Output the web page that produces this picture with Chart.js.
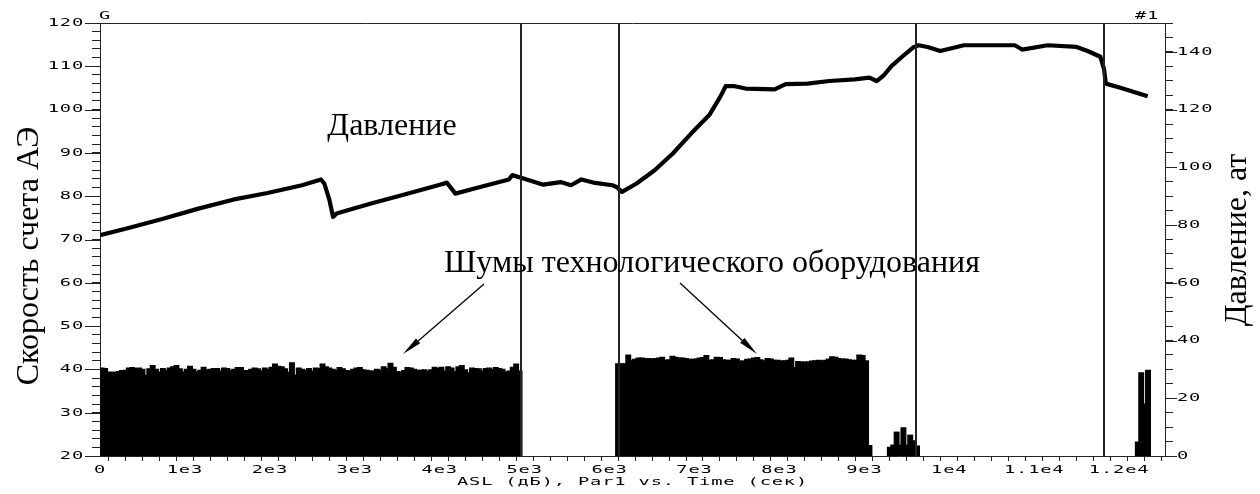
<!DOCTYPE html>
<html><head><meta charset="utf-8">
<script src="https://cdn.jsdelivr.net/npm/chart.js@4/dist/chart.umd.min.js"></script>
<style>html,body{margin:0;padding:0;background:#fff}#wrap{width:1260px;height:494px;position:relative}</style>
</head><body><div id="wrap"><canvas id="c"></canvas></div>
<script>
// ---- data ----
const BIN_SEC = 40;                       // histogram bin width, s
const noiseAStart = 0;                    // first block of equipment noise
const noiseA = [
 40.3,40.2,39.4,39.3,39.3,39.5,39.7,39.8,40.3,40.4,
 40.2,40.3,40.0,38.6,40.1,40.9,40.0,39.4,40.2,39.8,
 40.3,40.6,40.9,40.1,39.4,40.0,40.7,40.0,39.4,39.8,
 40.5,39.9,40.0,40.2,40.2,39.6,40.3,40.2,39.7,40.0,
 40.4,40.4,39.7,39.7,40.0,40.3,40.1,39.6,40.3,40.0,
 40.5,41.2,40.7,40.6,40.1,39.3,41.5,38.7,40.3,40.0,
 39.8,40.2,39.6,40.3,40.2,41.2,40.6,40.3,40.0,39.8,
 40.4,40.1,39.7,39.6,40.0,40.3,40.4,39.9,39.8,39.6,
 39.6,40.0,39.8,40.6,40.1,41.4,40.5,39.5,39.4,39.7,
 40.4,40.3,40.0,39.8,39.8,39.9,39.6,39.9,40.5,40.2,
 40.5,39.6,40.6,40.3,39.5,40.6,40.9,39.9,39.2,40.3,
 40.2,40.1,39.6,40.2,40.3,40.0,40.4,40.2,40.0,39.4,
 39.6,40.5,41.2,39.6
];
const noiseBStart = 6080;                 // second block of equipment noise
const noiseB = [
 41.3,41.3,41.3,43.3,42.1,42.3,42.6,42.6,42.5,42.5,
 42.4,42.5,42.6,42.8,42.1,42.2,43.0,42.8,42.6,42.6,
 42.5,42.3,42.3,42.4,42.6,42.7,43.2,42.1,42.2,42.8,
 42.7,42.2,42.1,42.1,42.5,42.4,41.9,41.9,42.3,42.4,
 42.6,42.7,42.2,42.0,42.5,42.4,42.1,42.1,41.9,42.0,
 42.1,42.6,40.4,41.8,41.7,41.7,41.7,41.9,42.0,42.1,
 42.0,42.1,42.4,42.9,42.8,42.5,42.4,42.4,42.2,42.1,
 42.1,43.3,43.2,42.0,22.4
];
const burst1Start = 9280;
const burst1 = [22.0,22.5,25.5,22.5,26.5,22.5,24.8,23.5,22.3];
const burst2Start = 12200;
const burst2 = [23.2,39.2,32.0,39.8];

// pressure curve (time s, pressure at)
const pressureTime = [0,347,754,1159,1565,1972,2378,2602,2641,2702,2744,2785,3191,3596,4002,4084,4185,4409,4815,4855,4966,5221,5424,5546,5668,5830,6033,6082,6146,6318,6531,6745,6960,7174,7303,7367,7473,7603,7944,8073,8330,8587,8887,9059,9145,9230,9316,9444,9573,9637,9744,9894,10172,10772,10858,11158,11500,11629,11779,11821,11843,12014,12336];
const pressureValue = [76.5,79.1,82.3,85.7,88.8,91.1,93.8,95.8,94.4,88.6,82.8,84.0,87.5,90.7,94.0,94.7,90.9,92.7,95.8,97.3,96.3,94.0,94.9,93.8,95.8,94.6,93.8,93.2,91.5,94.4,99.0,104.8,111.7,118.1,124.4,128.1,128.1,127.3,127.0,128.8,129.0,129.9,130.5,131.1,129.9,131.9,135.0,138.3,141.5,142.3,141.7,140.3,142.3,142.3,140.8,142.3,141.7,140.3,138.3,134.2,129.0,127.6,124.6];

// event marker times (vertical lines)
const eventTimes = [4957, 6114, 9604, 11827];

// axis ranges / ticks
const xMin = 0, xMax = 12540, xStep = 200, xLabelStep = 1000;
const yMin = 20, yMax = 120, yStep = 2, yLabelStep = 10;
const y2Min = 0, y2Max = 150, y2Step = 5, y2LabelStep = 20;

// texts
const leftTitle = 'Скорость счета АЭ';
const rightTitle = 'Давление, ат';
const xTitle = 'ASL (дБ), Par1 vs. Time (сек)';
const pressureLabel = 'Давление';
const noiseLabel = 'Шумы технологического оборудования';
const cornerLeft = 'G', cornerRight = '#1';

// ---- build ----
function bins(start, vals){ return vals.map((v,i)=>({x:start+(i+0.5)*BIN_SEC, y:v})); }
const barData = [].concat(bins(noiseAStart,noiseA), bins(noiseBStart,noiseB), bins(burst1Start,burst1), bins(burst2Start,burst2));
const lineData = pressureTime.map((t,i)=>({x:t, y:pressureValue[i]}));

function fmtX(v){
  if (v % xLabelStep !== 0) return '';
  if (v === 0) return '0';
  if (v < 10000) return (v/1000)+'e3';
  return (v/10000)+'e4';
}

// the instrument font is a wide, low bitmap face: draw the small mono labels stretched horizontally
const MONO = '"DejaVu Sans Mono"';
const XSTRETCH = 1.7;
const LS = '0.5px';
(function(){
  const proto = CanvasRenderingContext2D.prototype;
  const orig = proto.fillText;
  proto.fillText = function(t, x, y, mw){
    if (this.font.indexOf('DejaVu Sans Mono') >= 0){
      this.save(); this.translate(x, y); this.scale(XSTRETCH, 1);
      orig.call(this, t, 0, 0); this.restore();
    } else if (mw === undefined) orig.call(this, t, x, y);
    else orig.call(this, t, x, y, mw);
  };
})();
const TICK_FONT = {family:MONO, size:11};

const spacing = {
  id:'spacing',
  beforeUpdate(c){ c.ctx.letterSpacing = LS; },
  beforeLayout(c){ c.ctx.letterSpacing = LS; },
  beforeDraw(c){ c.ctx.letterSpacing = LS; }
};

const deco = {
  id:'deco',
  afterDatasetsDraw(c){
    const {ctx, chartArea:a, scales} = c;
    ctx.save();
    ctx.strokeStyle = '#222'; ctx.lineWidth = 2;
    eventTimes.forEach(t=>{
      const x = Math.round(scales.x.getPixelForValue(t));
      ctx.beginPath(); ctx.moveTo(x, a.top); ctx.lineTo(x, a.bottom); ctx.stroke();
    });
    ctx.restore();
  },
  afterDraw(c){
    const {ctx, chartArea:a, scales} = c;
    ctx.save();
    ctx.strokeStyle = '#222'; ctx.lineWidth = 1;
    ctx.beginPath(); ctx.moveTo(a.left, a.top+0.5); ctx.lineTo(a.right, a.top+0.5); ctx.stroke();
    scales.y.ticks.forEach(t=>{
      if (t.value % yLabelStep === 0){
        const y = Math.round(scales.y.getPixelForValue(t.value))+0.5;
        ctx.beginPath(); ctx.moveTo(a.left-15, y); ctx.lineTo(a.left, y); ctx.stroke();
      }
    });
    scales.y2.ticks.forEach(t=>{
      if (t.value % y2LabelStep === 0){
        const y = Math.round(scales.y2.getPixelForValue(t.value))+0.5;
        ctx.beginPath(); ctx.moveTo(a.right, y); ctx.lineTo(a.right+12, y); ctx.stroke();
      }
    });
    ctx.letterSpacing = LS;
    ctx.fillStyle = '#000';
    ctx.font = '11px ' + MONO;
    ctx.textBaseline = 'middle';
    ctx.textAlign = 'left';
    ctx.fillText(cornerLeft, a.left-1, 16.5);
    ctx.fillText(cornerRight, a.right-30, 16.5);
    ctx.textAlign = 'center';
    ctx.fillText(xTitle, (a.left+a.right)/2, 482.5);
    ctx.letterSpacing = '0px';
    ctx.font = '32px "Liberation Serif"';
    ctx.textBaseline = 'alphabetic';
    ctx.textAlign = 'center';
    ctx.fillText(pressureLabel, 392, 135);
    ctx.fillText(noiseLabel, 712, 272);
    ctx.save(); ctx.translate(37.5, 256); ctx.rotate(-Math.PI/2); ctx.fillText(leftTitle, 0, 0); ctx.restore();
    ctx.save(); ctx.translate(1246, 240); ctx.rotate(-Math.PI/2); ctx.fillText(rightTitle, 0, 0); ctx.restore();
    function arrow(x1,y1,x2,y2){
      const ang = Math.atan2(y2-y1, x2-x1), L = 20, W = 3.2;
      const bx = x2 - L*Math.cos(ang), by = y2 - L*Math.sin(ang);
      ctx.strokeStyle = '#000'; ctx.lineWidth = 1.3;
      ctx.beginPath(); ctx.moveTo(x1,y1); ctx.lineTo(bx,by); ctx.stroke();
      ctx.beginPath(); ctx.moveTo(x2,y2);
      ctx.lineTo(bx + W*Math.sin(ang), by - W*Math.cos(ang));
      ctx.lineTo(bx - W*Math.sin(ang), by + W*Math.cos(ang));
      ctx.closePath(); ctx.fill();
    }
    arrow(484, 284, 403, 354);
    arrow(680, 283, 757, 354);
    ctx.restore();
  }
};

new Chart(document.getElementById('c'), {
  type:'bar',
  data:{ datasets:[
    {type:'line', data:lineData, xAxisID:'x', yAxisID:'y2', borderColor:'#000', borderWidth:4.2, pointRadius:0, tension:0, borderJoinStyle:'round', order:0},
    {type:'bar', data:barData, xAxisID:'x', yAxisID:'y', backgroundColor:'#000', borderColor:'#000', borderWidth:0, barPercentage:1.4, categoryPercentage:1, inflateAmount:0.6, order:1}
  ]},
  options:{
    responsive:true, maintainAspectRatio:false, animation:false,
    layout:{padding:{top:23, left:0, right:0, bottom:0}},
    plugins:{legend:{display:false}, tooltip:{enabled:false}},
    scales:{
      x:{type:'linear', position:'bottom', min:xMin, max:xMax, offset:false,
         grid:{drawOnChartArea:false, drawTicks:true, tickLength:5, color:'#222'},
         border:{display:true, color:'#222', width:1},
         ticks:{stepSize:xStep, autoSkip:false, maxRotation:0, includeBounds:false, callback:v=>fmtX(v), font:TICK_FONT, color:'#000', padding:3},
         afterFit:s=>{s.height = 38;}},
      y:{type:'linear', position:'left', min:yMin, max:yMax,
         grid:{drawOnChartArea:false, drawTicks:true, tickLength:8, color:'#222'},
         border:{display:true, color:'#222', width:1},
         ticks:{stepSize:yStep, autoSkip:false, callback:v=>(v%yLabelStep===0? String(v):''), font:TICK_FONT, color:'#000', padding:8},
         afterFit:s=>{s.width = 100;}},
      y2:{type:'linear', position:'right', min:y2Min, max:y2Max,
         grid:{drawOnChartArea:false, drawTicks:true, tickLength:8, color:'#222'},
         border:{display:true, color:'#222', width:1},
         ticks:{stepSize:y2Step, autoSkip:false, callback:v=>(v%y2LabelStep===0? String(v):''), font:TICK_FONT, color:'#000', padding:4},
         afterFit:s=>{s.width = 95;}}
    }
  },
  plugins:[spacing, deco]
});
</script></body></html>
